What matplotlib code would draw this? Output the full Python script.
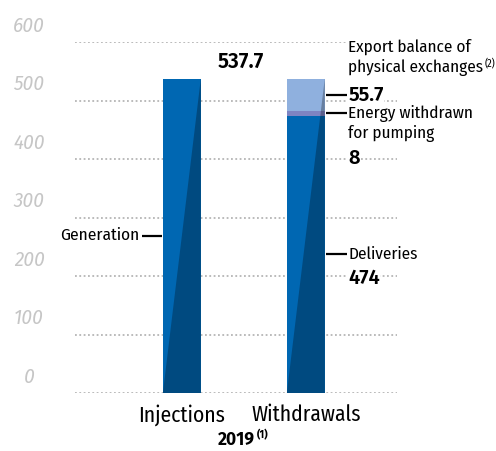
import matplotlib
matplotlib.use("Agg")
import matplotlib.pyplot as plt
from matplotlib.patches import Polygon
import matplotlib.transforms as mtransforms

plt.rcParams['font.family'] = ['Fira Sans Condensed', 'DejaVu Sans']
BOLD_FONT = ['Fira Sans', 'DejaVu Sans']

# ---- data ----
categories = ['Injections', 'Withdrawals']
generation = [537.7, 0]
deliveries = [0, 474]
pumping = [0, 8]
export_balance = [0, 55.7]
total = 537.7
yticks = [0, 100, 200, 300, 400, 500, 600]

c_main = '#0067b2'
c_pump = '#7e84c2'
c_export = '#8fb0de'

fig = plt.figure(figsize=(4.96, 4.51), dpi=100)
ax = fig.add_axes([0.151, 0.1286, 0.649, 0.778])
ax.set_xlim(-0.863, 1.734)
ax.set_ylim(0, 600)

# dotted gridlines
for v in yticks:
    ax.axhline(v, color='#b5b5b5', lw=1.3, ls=(0, (1, 1.4)), zorder=1)

xs = [0, 1]
w = 0.306
b1 = ax.bar(xs, generation, width=w, color=c_main, zorder=3)
b2 = ax.bar(xs, deliveries, width=w, color=c_main, zorder=3)
bottom = [g + d for g, d in zip(generation, deliveries)]
b3 = ax.bar(xs, pumping, width=w, bottom=bottom, color=c_pump, zorder=3)
bottom = [b + p for b, p in zip(bottom, pumping)]
b4 = ax.bar(xs, export_balance, width=w, bottom=bottom, color=c_export, zorder=3)

# diagonal shading on each bar
for i, x in enumerate(xs):
    top = generation[i] + deliveries[i] + pumping[i] + export_balance[i]
    x0, x1 = x - w / 2, x + w / 2
    ax.add_patch(Polygon([(x0, 0), (x1, top), (x1, 0)], closed=True,
                         facecolor='black', alpha=0.28, lw=0, zorder=4))

# y tick labels, drawn above the gridlines
trans = mtransforms.blended_transform_factory(fig.transFigure, ax.transData)
trans = mtransforms.offset_copy(trans, fig=fig, x=0, y=11.5, units='points')
for v in yticks:
    ax.text(29 / 496, v, str(v), transform=trans, ha='center', va='center',
            fontsize=15, style='italic', color='#c6c6c6', clip_on=False)
ax.set_yticks([])

ax.set_xticks(xs)
ax.set_xticklabels(categories, fontsize=15.5)
ax.tick_params(axis='x', length=0, pad=8)
for s in ax.spines.values():
    s.set_visible(False)

# total label
ax.text(0.48, total * 1.053, f'{total}', ha='center', va='center',
        fontsize=15, fontweight='semibold', family=BOLD_FONT)

lbl = dict(fontsize=12.3, va='center', ha='left')
val = dict(fontsize=14.5, va='center', ha='left', fontweight='semibold', family=BOLD_FONT)
box = dict(fc='white', ec='none', pad=0.3)


def leader(xa, xb, y):
    ax.plot([xa, xb], [y, y], color='black', lw=1.6, zorder=5, solid_capstyle='butt')


# Generation (left of Injections)
inj = b1[0]
xl = inj.get_x()
yg = generation[0] / 2
leader(xl - 0.17, xl - 0.01, yg)
ax.text(xl - 0.19, yg, 'Generation', ha='right', va='center', fontsize=12.5, bbox=box)

wd = b2[1]
xr = wd.get_x() + wd.get_width()
tx = xr + 0.19

# Deliveries
yd = deliveries[1] / 2
leader(xr + 0.01, xr + 0.18, yd)
ax.text(tx, yd, 'Deliveries', bbox=box, **lbl)
ax.annotate(f'{deliveries[1]}', (tx, yd), xytext=(0, -17.3), textcoords='offset points',
            bbox=box, **val)

# Pumping
yp = deliveries[1] + pumping[1] / 2
leader(xr + 0.01, xr + 0.18, yp)
ax.text(tx, yp, 'Energy withdrawn', bbox=box, **lbl)
ax.annotate('for pumping', (tx, yp), xytext=(0, -14.4), textcoords='offset points',
            bbox=box, **lbl)
ax.annotate(f'{pumping[1]}', (tx, yp), xytext=(0, -32.4), textcoords='offset points',
            bbox=box, **val)

# Export balance
ye = deliveries[1] + pumping[1] + export_balance[1] / 2
leader(xr + 0.01, xr + 0.18, ye)
ax.annotate(f'{export_balance[1]}', (tx, ye), xytext=(0, 0), textcoords='offset points',
            bbox=box, **val)
t2 = ax.annotate('physical exchanges', (tx, ye), xytext=(0, 19.5), textcoords='offset points',
                 bbox=box, **lbl)
ax.annotate('Export balance of', (tx, ye), xytext=(0, 34.5), textcoords='offset points',
            bbox=box, **lbl)
ax.annotate('(2)', xy=(1, 0.75), xycoords=t2, xytext=(0.5, 0), textcoords='offset points',
            fontsize=7.5, va='center', ha='left')

# year
t_year = fig.text(236 / 496, 1 - 440 / 451, '2019', ha='center', va='center',
                  fontsize=12.5, fontweight='bold', family=BOLD_FONT)
ax.annotate('(1)', xy=(1, 0.8), xycoords=t_year, xytext=(2, 0), textcoords='offset points',
            fontsize=7.5, fontweight='bold', va='center', ha='left', family=BOLD_FONT)

fig.savefig('out.png', dpi=100)
